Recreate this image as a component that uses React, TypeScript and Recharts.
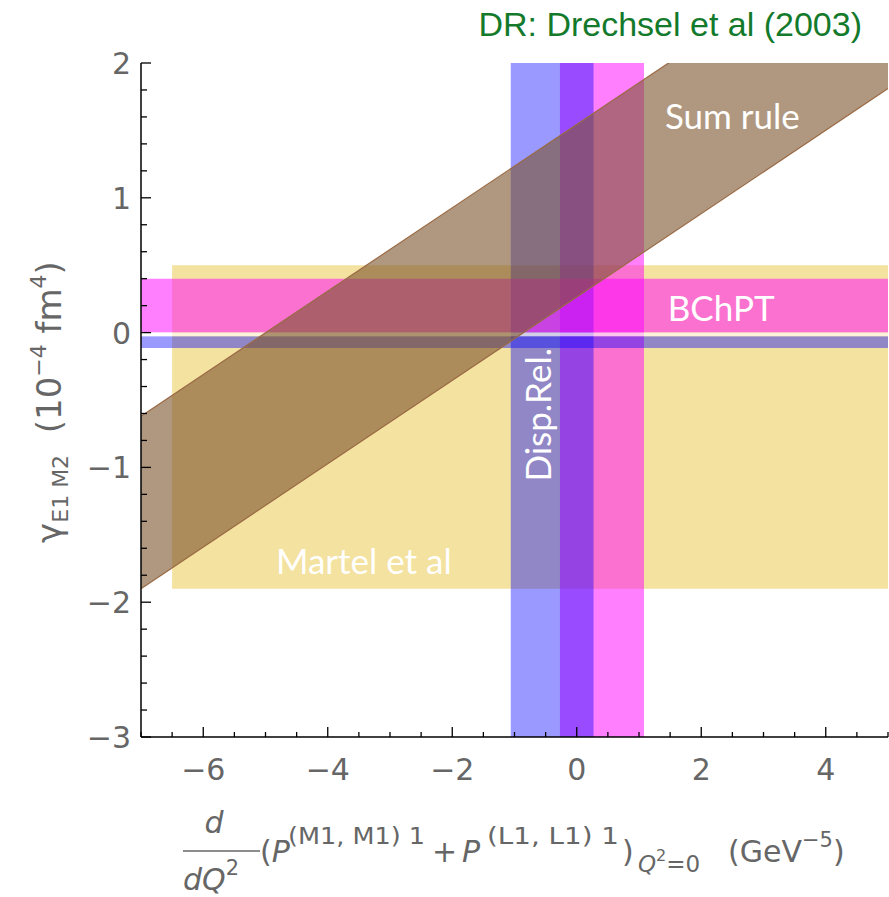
import React from 'react';
import { ComposedChart, XAxis, YAxis, Area, ReferenceArea, Customized } from 'recharts';

// ---- data ----
const xTicks = [-7, -6.5, -6, -5.5, -5, -4.5, -4, -3.5, -3, -2.5, -2, -1.5, -1, -0.5, 0, 0.5, 1, 1.5, 2, 2.5, 3, 3.5, 4, 4.5, 5];
const xLabelTicks = [-6, -4, -2, 0, 2, 4];
const yTicks = [-3, -2.8, -2.6, -2.4, -2.2, -2, -1.8, -1.6, -1.4, -1.2, -1, -0.8, -0.6, -0.4, -0.2, 0, 0.2, 0.4, 0.6, 0.8, 1, 1.2, 1.4, 1.6, 1.8, 2];
const yLabelTicks = [-3, -2, -1, 0, 1, 2];

// Sum rule band (x, [lower, upper])
const sumRuleX = [-7, 5];
const sumRuleLower = [-1.9, 1.81];
const sumRuleUpper = [-0.62, 3.09];

// Martel et al box
const martelX = [-6.5, 5];
const martelY = [-1.9, 0.5];
// BChPT horizontal band
const bchptY = [0.0, 0.4];
// Disp.Rel. horizontal band
const dispRelY = [-0.115, -0.028];
// Disp.Rel. vertical band
const dispRelX = [-1.06, 0.27];
// BChPT vertical band
const bchptX = [-0.27, 1.08];

const data = sumRuleX.map((x, i) => ({ x, band: [sumRuleLower[i], sumRuleUpper[i]] }));

const GRAY = '#666666';
const fmt = (v: number) => (v < 0 ? '\u2212' + Math.abs(v) : String(v));
const isLabelX = (v: number) => xLabelTicks.some((t) => Math.abs(t - v) < 1e-6);
const isLabelY = (v: number) => yLabelTicks.some((t) => Math.abs(t - v) < 1e-6);

const BottomTick = (p: any) => {
  const v = p.payload.value;
  const major = isLabelX(v);
  return (
    <g>
      <line x1={p.x} x2={p.x} y1={p.y} y2={p.y - (major ? 10 : 5)} stroke="#000" strokeWidth={1.3} />
      {major && (
        <text x={p.x} y={p.y + 43} textAnchor="middle" fontSize={30} fill={GRAY} fontFamily="DejaVu Sans">
          {fmt(v)}
        </text>
      )}
    </g>
  );
};
const TopTick = (p: any) => {
  const v = p.payload.value;
  const major = isLabelX(v);
  return <line x1={p.x} x2={p.x} y1={p.y} y2={p.y + (major ? 10 : 5)} stroke="#000" strokeWidth={1.3} />;
};
const LeftTick = (p: any) => {
  const v = p.payload.value;
  const major = isLabelY(v);
  return (
    <g>
      <line x1={p.x} x2={p.x + (major ? 10 : 6)} y1={p.y} y2={p.y} stroke="#000" strokeWidth={1.3} />
      {major && (
        <text x={p.x - 10} y={p.y + 11} textAnchor="end" fontSize={30} fill={GRAY} fontFamily="DejaVu Sans">
          {fmt(v)}
        </text>
      )}
    </g>
  );
};
const RightTick = (p: any) => {
  const v = p.payload.value;
  const major = isLabelY(v);
  return <line x1={p.x} x2={p.x - (major ? 10 : 6)} y1={p.y} y2={p.y} stroke="#000" strokeWidth={1.3} />;
};

const Texts = () => (
  <g>
    <text x={862} y={36} textAnchor="end" fontSize={34} fill="#137a2c" fontFamily="Liberation Sans">
      DR: Drechsel et al (2003)
    </text>
    {/* y-axis title */}
    <text
      transform="translate(61,402) rotate(-90)"
      textAnchor="middle"
      fontSize={34}
      fill={GRAY}
      fontFamily="DejaVu Sans"
      style={{ whiteSpace: 'pre' }}
    >
      <tspan>γ</tspan>
      <tspan fontSize={22} dy={7}>E1 M2</tspan>
      <tspan dy={-7}>{'  (10'}</tspan>
      <tspan fontSize={22} dy={-15}>−4</tspan>
      <tspan dy={15}>{' fm'}</tspan>
      <tspan fontSize={22} dy={-15}>4</tspan>
      <tspan dy={15}>)</tspan>
    </text>
    {/* x-axis title: fraction */}
    <text x={214} y={833} textAnchor="middle" fontSize={30} fill={GRAY} fontFamily="DejaVu Sans" fontStyle="italic">
      d
    </text>
    <line x1={183} x2={260} y1={851} y2={851} stroke={GRAY} strokeWidth={1.5} />
    <text x={183} y={890} fontSize={30} fill={GRAY} fontFamily="DejaVu Sans">
      <tspan fontStyle="italic">dQ</tspan>
      <tspan fontSize={21} dy={-15}>2</tspan>
    </text>
    <text y={862} fontSize={30} fill={GRAY} fontFamily="DejaVu Sans" style={{ whiteSpace: 'pre' }}>
      <tspan x={260}>(</tspan>
      <tspan fontStyle="italic">P</tspan>
      <tspan x={288} fontSize={23} dy={-18} textLength={137} lengthAdjust="spacingAndGlyphs">(M1, M1) 1</tspan>
      <tspan x={432} dy={18}>+</tspan>
      <tspan x={462} fontStyle="italic">P</tspan>
      <tspan x={487} fontSize={23} dy={-18} textLength={132} lengthAdjust="spacingAndGlyphs">(L1, L1) 1</tspan>
      <tspan x={622} dy={18}>)</tspan>
      <tspan x={638} fontSize={23} fontStyle="italic" dy={10}>Q</tspan>
      <tspan fontSize={16} dy={-11}>2</tspan>
      <tspan fontSize={23} dy={11}>=0</tspan>
      <tspan x={728} dy={-10}>(GeV</tspan>
      <tspan fontSize={21} dy={-15}>−5</tspan>
      <tspan dy={15}>)</tspan>
    </text>
  </g>
);

const bandLabel = { fill: '#ffffff', fontSize: 35, fontFamily: 'Lato' } as const;

export default function App() {
  return (
    <div style={{ position: 'absolute', left: 0, top: 0, width: 889, height: 897, background: '#fff' }}>
      <ComposedChart width={889} height={897} data={data} margin={{ top: 63, right: 1, bottom: 0, left: 0 }}>
        <XAxis
          dataKey="x"
          type="number"
          domain={[-7, 5]}
          allowDataOverflow
          ticks={xTicks}
          interval={0}
          tickSize={0}
          tickMargin={0}
          tick={<BottomTick />}
          tickLine={false}
          height={160}
          axisLine={{ stroke: '#000', strokeWidth: 1.5 }}
        />
        <XAxis
          xAxisId="top"
          orientation="top"
          type="number"
          domain={[-7, 5]}
          allowDataOverflow
          ticks={xTicks}
          interval={0}
          tickSize={0}
          tickMargin={0}
          tick={<TopTick />}
          tickLine={false}
          height={0}
          axisLine={{ stroke: '#000', strokeWidth: 1.5 }}
        />
        <YAxis
          type="number"
          domain={[-3, 2]}
          allowDataOverflow
          ticks={yTicks}
          interval={0}
          tickSize={0}
          tickMargin={0}
          tick={<LeftTick />}
          tickLine={false}
          width={141}
          axisLine={{ stroke: '#000', strokeWidth: 1.5 }}
        />
        <YAxis
          yAxisId="right"
          orientation="right"
          type="number"
          domain={[-3, 2]}
          allowDataOverflow
          ticks={yTicks}
          interval={0}
          tickSize={0}
          tickMargin={0}
          tick={<RightTick />}
          tickLine={false}
          width={0}
          axisLine={{ stroke: '#000', strokeWidth: 1.5 }}
        />

        <ReferenceArea x1={martelX[0]} x2={martelX[1]} y1={martelY[0]} y2={martelY[1]} fill="#e9c641" fillOpacity={0.5} stroke="none" ifOverflow="hidden" />
        <ReferenceArea x1={bchptX[0]} x2={bchptX[1]} fill="#ff00ff" fillOpacity={0.5} stroke="none" ifOverflow="hidden" />
        <ReferenceArea x1={dispRelX[0]} x2={dispRelX[1]} fill="#0000ff" fillOpacity={0.4} stroke="none" ifOverflow="hidden" />
        <ReferenceArea y1={bchptY[0]} y2={bchptY[1]} fill="#ff00ff" fillOpacity={0.5} stroke="none" ifOverflow="hidden" />
        <ReferenceArea y1={dispRelY[0]} y2={dispRelY[1]} fill="#0000ff" fillOpacity={0.4} stroke="none" ifOverflow="hidden" />
        <ReferenceArea y1={dispRelY[1]} y2={bchptY[0]} fill="#ffffff" fillOpacity={0.6} stroke="none" ifOverflow="hidden" />

        <Area
          dataKey="band"
          type="linear"
          fill="#7b532b"
          fillOpacity={0.6}
          stroke="#9a6a45"
          strokeWidth={1.2}
          isAnimationActive={false}
          activeDot={false}
          dot={false}
        />

        <ReferenceArea x1={1.0} x2={4.0} y1={1.4} y2={1.8} fill="none" stroke="none" ifOverflow="visible"
          label={{ value: 'Sum rule', position: 'center', ...bandLabel }} />
        <ReferenceArea x1={1.0} x2={3.64} y1={0.03} y2={0.33} fill="none" stroke="none" ifOverflow="visible"
          label={{ value: 'BChPT', position: 'center', ...bandLabel }} />
        <ReferenceArea x1={-4.8} x2={-2.04} y1={-1.85} y2={-1.55} fill="none" stroke="none" ifOverflow="visible"
          label={{ value: 'Martel et al', position: 'center', ...bandLabel }} />
        <ReferenceArea x1={-0.8} x2={-0.43} y1={-1.1} y2={-0.12} fill="none" stroke="none" ifOverflow="visible"
          label={{ value: 'Disp.Rel.', position: 'center', angle: -90, ...bandLabel }} />

        <Customized component={Texts} />
      </ComposedChart>
    </div>
  );
}
